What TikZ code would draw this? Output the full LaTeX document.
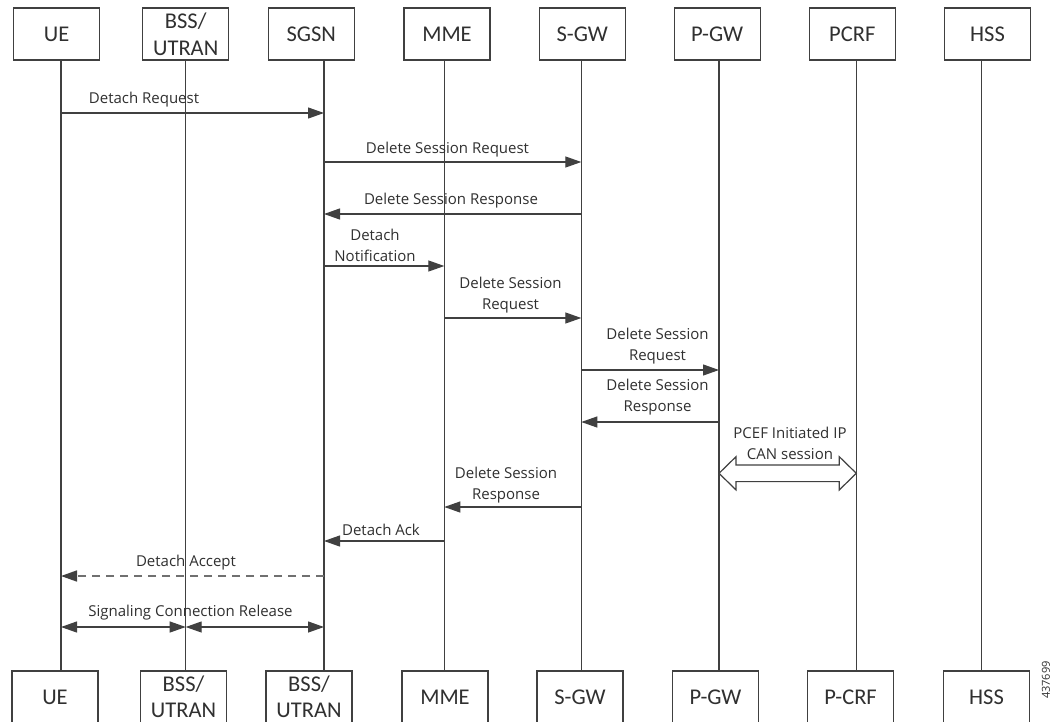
\documentclass[tikz,border=0pt]{standalone}
\usepackage{fontspec}
\setmainfont{Open Sans}
\newfontfamily\actorfont{Carlito}
\usetikzlibrary{arrows.meta,calc}
\definecolor{ln}{HTML}{404040}
\definecolor{tx}{HTML}{303030}
\begin{document}
\begin{tikzpicture}[x=1pt,y=-1pt,
  actor/.style={draw=ln,line width=1.3pt,minimum width=86pt,minimum height=52pt,inner sep=0pt,align=center,text=tx,font=\actorfont\fontsize{22.5}{27}\selectfont},
  bactor/.style={actor,font=\actorfont\fontsize{22.5}{25.5}\selectfont},
  life/.style={ln,line width=1.2pt},
  tip/.style={Triangle[length=16pt,width=11pt,color=ln]},
  msg/.style={ln,line width=1.2pt,-{Triangle[length=16pt,width=11pt]}},
  msgdash/.style={draw=ln!75,line width=1.6pt,dash pattern=on 8pt off 6pt,-{Triangle[length=16pt,width=11pt,color=ln]}},
  both/.style={ln,line width=1.2pt,{Triangle[length=16pt,width=11pt]}-{Triangle[length=16pt,width=11pt]}},
  lbl/.style={font=\fontsize{15}{21}\selectfont,align=center,inner sep=0pt,text=tx},
  hollow/.style={draw=ln,line width=1.2pt,fill=white,line join=miter}]
\useasboundingbox (0,0) rectangle (1055,721);
\fill[white] (0,0) rectangle (1055,721);
% top actors
\node[actor] (tUE)   at (56.7,34)  {UE};
\node[actor] (tBSS)  at (185.7,34) {BSS/\\UTRAN};
\node[actor] (tSGSN) at (311.3,34) {SGSN};
\node[actor] (tMME)  at (447,34)   {MME};
\node[actor] (tSGW)  at (582.3,34) {S-GW};
\node[actor] (tPGW)  at (717.2,34) {P-GW};
\node[actor] (tPCRF) at (852.3,34) {PCRF};
\node[actor] (tHSS)  at (987.5,34) {HSS};
% bottom actors
\node[bactor] (bUE)   at (55,697)    {UE};
\node[bactor] (bBSS)  at (183.5,697) {BSS/\\UTRAN};
\node[bactor] (bSGSN) at (309,697)   {BSS/\\UTRAN};
\node[bactor] (bMME)  at (445,697)   {MME};
\node[bactor] (bSGW)  at (580,697)   {S-GW};
\node[bactor] (bPGW)  at (715.5,697) {P-GW};
\node[bactor] (bPCRF) at (850.6,697) {P-CRF};
\node[bactor] (bHSS)  at (986.5,697) {HSS};
% lifeline x positions
\coordinate (xUE)   at (61,0);
\coordinate (xBSS)  at (185.7,0);
\coordinate (xSGSN) at (324,0);
\coordinate (xMME)  at (444.3,0);
\coordinate (xSGW)  at (581.3,0);
\coordinate (xPGW)  at (719,0);
\coordinate (xPCRF) at (856.3,0);
\coordinate (xHSS)  at (981.3,0);
\foreach \n in {UE,BSS,SGSN,MME,SGW,PGW,PCRF,HSS}
  \draw[life] (t\n.south -| x\n) -- (b\n.north -| x\n);
% messages
\draw[msg] (xUE |- 0,113) -- (xSGSN |- 0,113);
\node[lbl] (l1) at (144,100) {Detach Request};
\draw[msg] (xSGSN |- 0,162) -- (xSGW |- 0,162);
\node[lbl] (l2) at (447.5,150) {Delete Session Request};
\draw[msg] (xSGW |- 0,214) -- (xSGSN |- 0,214);
\node[lbl] (l3) at (451,201) {Delete Session Response};
\draw[msg] (xSGSN |- 0,266) -- (xMME |- 0,266);
\node[lbl] (l4) at (375,245) {Detach\\Notification};
\draw[msg] (xMME |- 0,318) -- (xSGW |- 0,318);
\node[lbl] (l5) at (510.5,295) {Delete Session\\Request};
\draw[msg] (xSGW |- 0,370) -- (xPGW |- 0,370);
\node[lbl] (l6) at (657.5,346) {Delete Session\\Request};
\draw[msg] (xPGW |- 0,422) -- (xSGW |- 0,422);
\node[lbl] (l7) at (657.5,397.5) {Delete Session\\Response};
% hollow double arrow
\coordinate (hT) at (xPGW |- 0,473.3);
\coordinate (hR) at (xPCRF |- 0,473.3);
\draw[hollow] (hT) -- ($(hT)+(17,-16.6)$) -- ($(hT)+(17,-8.3)$) -- ($(hR)+(-17,-8.3)$)
  -- ($(hR)+(-17,-16.6)$) -- (hR) -- ($(hR)+(-17,16.6)$) -- ($(hR)+(-17,8.3)$)
  -- ($(hT)+(17,8.3)$) -- ($(hT)+(17,16.6)$) -- cycle;
\node[lbl] (l8) at (790,443) {PCEF Initiated IP\\CAN session};
\draw[msg] (xSGW |- 0,507) -- (xMME |- 0,507);
\node[lbl] (l9) at (506,485.5) {Delete Session\\Response};
\draw[msg] (xMME |- 0,541) -- (xSGSN |- 0,541);
\node[lbl] (l10) at (381,530) {Detach Ack};
\draw[msgdash] (xSGSN |- 0,576) -- (xUE |- 0,576);
\node[lbl] (l11) at (186,563) {Detach Accept};
\draw[both] (xUE |- 0,627) -- (xBSS |- 0,627);
\draw[both] (xBSS |- 0,627) -- (xSGSN |- 0,627);
\node[lbl] (l12) at (190.5,613) {Signaling Connection Release};
\node[rotate=90,inner sep=0pt,text=tx,font=\fontsize{11}{13}\selectfont] (fig) at (1046,680) {437699};
\end{tikzpicture}
\end{document}
